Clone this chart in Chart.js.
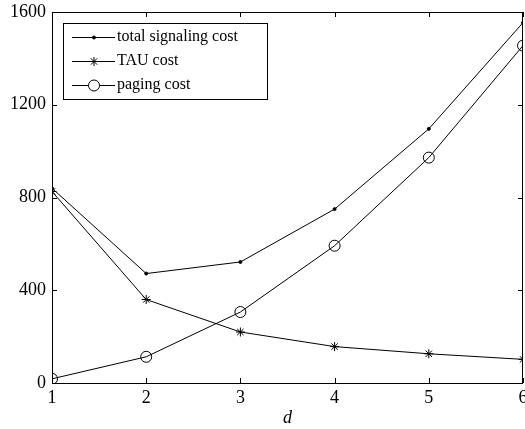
<!DOCTYPE html>
<html>
<head>
<meta charset="utf-8">
<script src="https://cdn.jsdelivr.net/npm/chart.js@4.4.1/dist/chart.umd.min.js"></script>
<style>
  html, body { margin: 0; padding: 0; background: #fff; }
  #wrap { width: 525px; height: 429px; }
</style>
</head>
<body>
<div id="wrap"><canvas id="cost"></canvas></div>
<script>
// valores
const dValues = [1, 2, 3, 4, 5, 6];
const totalCost = [840, 472, 522, 750, 1096, 1554];
const tauCost = [826, 360, 220, 157, 126, 102];
const pagingCost = [18, 113, 306, 592, 972, 1455];
const yTicks = [0, 400, 800, 1200, 1600];

const serif = '"Liberation Serif", "Times New Roman", serif';

function pts(arr) {
    return arr.map((v, i) => ({ x: dValues[i], y: v }));
}

// caixa + ticks para dentro (estilo matlab)
const boxTicks = {
    id: 'boxTicks',
    afterDraw(chart) {
        const { ctx, chartArea: a, scales } = chart;
        const len = 5;
        ctx.save();
        ctx.strokeStyle = '#000';
        ctx.lineWidth = 1;
        ctx.strokeRect(a.left + 0.5, a.top + 0.5, a.right - a.left - 1, a.bottom - a.top);
        ctx.beginPath();
        scales.x.ticks.forEach(t => {
            const px = Math.round(scales.x.getPixelForValue(t.value)) + 0.5;
            ctx.moveTo(px, a.bottom); ctx.lineTo(px, a.bottom - len);
            ctx.moveTo(px, a.top); ctx.lineTo(px, a.top + len);
        });
        scales.y.ticks.forEach(t => {
            const py = Math.round(scales.y.getPixelForValue(t.value)) + 0.5;
            ctx.moveTo(a.left, py); ctx.lineTo(a.left + len, py);
            ctx.moveTo(a.right, py); ctx.lineTo(a.right - len, py);
        });
        ctx.stroke();
        ctx.restore();
    }
};

// legenda dentro do gráfico
const boxLegend = {
    id: 'boxLegend',
    afterDraw(chart) {
        const { ctx, chartArea: a } = chart;
        const x0 = a.left + 11, y0 = a.top + 11;
        const w = 204, h = 76;
        ctx.save();
        ctx.fillStyle = '#fff';
        ctx.fillRect(x0, y0, w, h);
        ctx.strokeStyle = '#000';
        ctx.lineWidth = 1;
        ctx.strokeRect(x0 + 0.5, y0 + 0.5, w, h);
        ctx.font = '16px ' + serif;
        ctx.textBaseline = 'middle';
        chart.data.datasets.forEach((ds, i) => {
            const y = y0 + 14 + i * 24;
            ctx.beginPath();
            ctx.moveTo(x0 + 9, y + 0.5);
            ctx.lineTo(x0 + 52, y + 0.5);
            ctx.strokeStyle = '#000';
            ctx.stroke();
            ctx.fillStyle = ds.backgroundColor;
            ctx.strokeStyle = ds.borderColor;
            if (ds.label === 'paging cost') {
                ctx.fillStyle = '#fff';
            }
            Chart.helpers.drawPoint(ctx, {
                pointStyle: ds.pointStyle,
                radius: ds.pointRadius,
                rotation: 0,
                borderWidth: 1
            }, x0 + 31, y + 0.5);
            ctx.fillStyle = '#000';
            ctx.fillText(ds.label, x0 + 54, y);
        });
        ctx.restore();
    }
};

const ctx = document.getElementById('cost').getContext('2d');

const costChart = new Chart(ctx, {
    type: 'line',
    data: {
        datasets: [
            {
                label: 'total signaling cost',
                data: pts(totalCost),
                borderColor: '#000',
                backgroundColor: '#000',
                borderWidth: 1,
                pointStyle: 'circle',
                pointRadius: 1.5,
                pointBorderWidth: 1,
            },
            {
                label: 'TAU cost',
                data: pts(tauCost),
                borderColor: '#000',
                backgroundColor: '#000',
                borderWidth: 1,
                pointStyle: 'star',
                pointRadius: 4.5,
                pointBorderWidth: 1,
            },
            {
                label: 'paging cost',
                data: pts(pagingCost),
                borderColor: '#000',
                backgroundColor: 'rgba(0,0,0,0)',
                borderWidth: 1,
                pointStyle: 'circle',
                pointRadius: 5.5,
                pointBorderWidth: 1,
            }
        ]
    },
    options: {
        responsive: true,
        maintainAspectRatio: false,
        animation: false,
        events: [],
        layout: {
            autoPadding: false,
            padding: { top: 12, right: 2, bottom: 0, left: 0 }
        },
        plugins: {
            legend: { display: false },
            tooltip: { enabled: false },
            title: { display: false }
        },
        scales: {
            x: {
                type: 'linear',
                min: 1,
                max: 6,
                grid: { display: false, drawTicks: false },
                border: { display: false },
                ticks: {
                    stepSize: 1,
                    color: '#000',
                    padding: 4,
                    maxRotation: 0,
                    font: { family: serif, size: 18 }
                },
                title: {
                    display: true,
                    text: 'd',
                    color: '#000',
                    padding: 0,
                    font: { family: serif, size: 18, style: 'italic' }
                },
                afterFit: s => {
                    s.height = 46;
                    s.paddingLeft = 0;
                    s.paddingRight = 0;
                }
            },
            y: {
                min: 0,
                max: 1600,
                grid: { display: false, drawTicks: false },
                border: { display: false },
                afterBuildTicks: s => { s.ticks = yTicks.map(v => ({ value: v })); },
                ticks: {
                    color: '#000',
                    padding: 6,
                    font: { family: serif, size: 18 },
                    callback: v => String(v)
                },
                afterFit: s => {
                    s.width = 52;
                    s.paddingTop = 0;
                    s.paddingBottom = 0;
                }
            }
        }
    },
    plugins: [boxTicks, boxLegend]
});
</script>
</body>
</html>
